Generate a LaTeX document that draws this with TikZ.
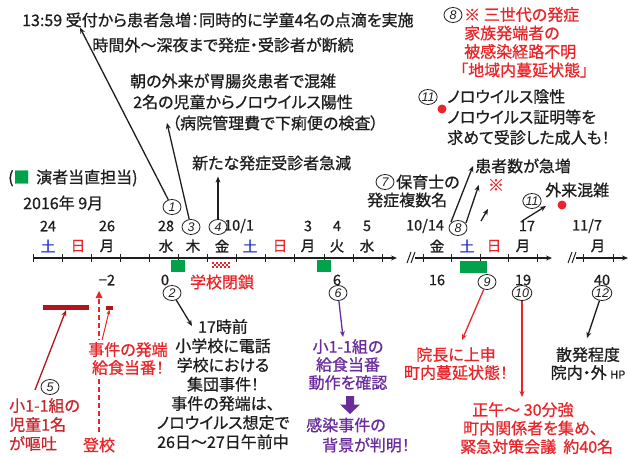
\documentclass[tikz,border=0pt]{standalone}
\usepackage{fontspec}
\setmainfont{Noto Sans CJK JP}[CharacterWidth=AlternateProportional,FakeBold=0.8]
\newfontfamily\numfont{Liberation Sans}
\usetikzlibrary{shapes.geometric,arrows.meta,calc}

\definecolor{ink}{HTML}{1E1E1E}
\definecolor{jred}{HTML}{E8262A}
\definecolor{dred}{HTML}{B3141C}
\definecolor{mred}{HTML}{C8282E}
\definecolor{jblue}{HTML}{2030C8}
\definecolor{jgreen}{HTML}{00A14B}
\definecolor{jpurple}{HTML}{6A2C9C}

\begin{document}
\begin{tikzpicture}[x=1pt,y=-1pt,
  txt/.style={inner sep=0pt,font=\fontsize{16}{19.5}\selectfont,text=ink},
  day/.style={inner sep=0pt,font=\fontsize{14.5}{14.5}\selectfont,text=ink},
  cn/.style={draw=ink,ellipse,line width=0.8pt,inner sep=0pt,minimum width=18pt,
    minimum height=15pt,font=\fontsize{12.5}{12.5}\numfont\itshape,text=ink},
  arr/.style={-{Stealth[length=6pt,width=5pt]},line width=1.3pt,draw=ink},
  axisline/.style={line width=1.3pt,draw=ink,-{Stealth[length=6pt,width=5pt]}},
  tick/.style={line width=1pt,draw=ink},
  duty/.style={fill=jgreen,inner sep=0pt,minimum height=12pt},
  reddot/.style={circle,fill=jred,inner sep=0pt,minimum size=9pt}]

\fill[white] (0,0) rectangle (628,457);
\useasboundingbox (0,0) rectangle (628,457);

% ---------- time axis ----------
\draw[axisline] (33,258) -- (397,258);
\foreach \i in {0,...,12} \draw[tick] ({33+29.1*\i},254) -- ({33+29.1*\i},262);
\draw[tick] (407,263) -- (411,252);
\draw[tick] (411,263) -- (415,252);
\draw[axisline] (415,258) -- (552,258);
\foreach \i in {0,...,4} \draw[tick] ({423+28.5*\i},254) -- ({423+28.5*\i},262);
\draw[tick] (568,263) -- (572,252);
\draw[tick] (572,263) -- (576,252);
\draw[axisline] (576,258) -- (628,258);
\foreach \x in {583,613} \draw[tick] (\x,254) -- (\x,262);

% duty days and school closure
\node[duty,minimum width=14pt] (g1) at (178,266) {};
\node[duty,minimum width=14pt] (g2) at (324,266) {};
\node[duty,minimum width=27pt] (g3) at (473.5,267) {};
\foreach \i in {0,...,8} \foreach \j in {0,1,2} {
  \pgfmathparse{int(mod(\i+\j,2))}
  \ifnum\pgfmathresult=0 \fill[jred] ({212+2*\i},{262+2*\j}) rectangle ++(2,2); \fi
}
\node[txt,text=jred] (close) at (222,282) {学校閉鎖};

% day numbers
\node[day] (d24) at (48,226) {24};
\node[day] (d26) at (107,226) {26};
\node[day] (d28) at (166,226) {28};
\node[day] (d101) at (239,226) {10/1};
\node[day] (d3) at (308,226) {3};
\node[day] (d4) at (337,226) {4};
\node[day] (d5) at (367,226) {5};
\node[day] (d1014) at (425,226) {10/14};
\node[day] (d17) at (527,226) {17};
\node[day] (d117) at (587,226) {11/7};

% weekdays
\node[day,text=jblue] (w1) at (48,246) {土};
\node[day,text=jred]  (w2) at (78,246) {日};
\node[day] (w3) at (107,246) {月};
\node[day] (w4) at (166,246) {水};
\node[day] (w5) at (193,246) {木};
\node[day] (w6) at (222,246) {金};
\node[day,text=jblue] (w7) at (250,246) {土};
\node[day,text=jred]  (w8) at (280,246) {日};
\node[day] (w9) at (308,246) {月};
\node[day] (w10) at (337,246) {火};
\node[day] (w11) at (367,246) {水};
\node[day] (w12) at (437,246) {金};
\node[day,text=jblue] (w13) at (467,246) {土};
\node[day,text=jred]  (w14) at (494,246) {日};
\node[day] (w15) at (523,246) {月};
\node[day] (w16) at (598,246) {月};

% elapsed days
\node[day] (m2) at (107,280) {−2};
\node[day] (m0) at (165,280) {0};
\node[day] (m6) at (337,280) {6};
\node[day] (m16) at (437,280) {16};
\node[day] (m19) at (523,280) {19};
\node[day] (m40) at (602,280) {40};

% legend and month
\node[txt,anchor=west] (legend) at (8,178) {(\textcolor{jgreen}{■}\hspace{3pt} 演者当直担当)};
\node[txt,anchor=west] (month) at (23,203) {2016年 9月};

% ---------- upper notes ----------
\node[txt,anchor=west] (A1) at (22,20) {13:59 受付から患者急増：同時的に学童4名の点滴を実施};
\node[txt] (A2) at (223,45) {時間外～深夜まで発症・受診者が断続};
\node[txt,anchor=west] (A3a) at (130,81) {朝の外来が胃腸炎患者で混雑};
\node[txt,anchor=west] (A3b) at (133,102) {2名の児童からノロウイルス陽性};
\node[txt,anchor=west] (A3c) at (172,123) {（病院管理費で下痢便の検査）};
\node[txt,anchor=west] (A4) at (192,163) {新たな発症受診者急減};

\node[cn] (c1) at (172,207) {1};
\node[cn] (c3) at (191,227) {3};
\node[cn] (c4) at (218,227) {4};
\draw[arr] (c1) -- ([xshift=58pt]A1.south west);
\draw[arr] (c3) -- ([xshift=-5pt]A3c.west);
\draw[arr,shorten >=6pt] (c4) -- (c4 |- A4.south);

\node[cn] (c8a) at (453,15) {8};
\node[txt,text=jred,align=left,anchor=north west,font=\fontsize{16}{18.5}\selectfont] (B8) at (464,7)
  {※ 三世代の発症\\家族発端者の\\被感染経路不明\\\hspace*{-4pt}「地域内蔓延状態」};

\node[cn] (c11a) at (428,97) {11};
\node[reddot] (dot1) at (442,109) {};
\node[txt,align=left,anchor=north west,font=\fontsize{16}{20.5}\selectfont] (B11) at (447,89)
  {ノロウイルス陰性\\ノロウイルス証明等を\\求めて受診した成人も！};

\node[txt,anchor=west] (P) at (475,166) {患者数が急増};
\node[cn] (c7) at (385,182) {7};
\node[txt,anchor=west] (B7a) at (396,182) {保育士の};
\node[txt,anchor=west] (B7b) at (367,200) {発症複数名};
\node[txt,text=jred] (K) at (496,185) {※};
\node[cn] (c8) at (458,228) {8};
\coordinate (s1) at (451,222);
\coordinate (s2) at (466,223);
\coordinate (s3) at (481,221);
\coordinate (e3) at (488,209);
\draw[arr] (s1) -- ([xshift=-2pt]P.west);
\draw[arr] (s2) -- ([xshift=-9pt]K.west);
\draw[arr] (s3) -- (e3);

\node[cn] (c11) at (532,201) {11};
\node[txt,anchor=west] (G) at (545,190) {外来混雑};
\node[reddot] (dot2) at (562,205) {};
\coordinate (s4) at (522,221);
\coordinate (e4) at (546,206);
\draw[arr] (s4) -- (e4);

% ---------- lower notes ----------
\node[cn] (c2) at (172,293) {2};
\node[txt,align=center,anchor=north,font=\fontsize{16}{19.2}\selectfont] (B2) at (223,319)
  {17時前\\小学校に電話\\学校における\\集団事件！\\事件の発端は、\\ノロウイルス想定で\\26日～27日午前中};
\draw[arr] (c2) -- ($(B2.north)+(-31,7)$);

% vomiting case and school attendance
\node[fill=dred,inner sep=0pt,minimum width=46pt,minimum height=5pt] (bar5) at (66,307.5) {};
\node[fill=dred,inner sep=0pt,minimum width=7pt,minimum height=4pt] (bar0) at (109.5,307.5) {};
\node[txt,text=jred] (tk) at (99,445) {登校};
\coordinate (tktop) at (99,291);
\draw[jred,line width=2.2pt,dash pattern=on 5pt off 3pt,shorten >=3pt,shorten <=5pt] (tk.north) -- (tktop);
\fill[jred] (tktop) -- ++(-3.5,7) -- ++(7,0) -- cycle;
\node[txt,text=jred,align=center,anchor=north,fill=white,inner ysep=2pt,font=\fontsize{16}{18}\selectfont] (E) at (128,340)
  {事件の発端\\給食当番！};
\draw[-{Stealth[length=5pt,width=4pt]},line width=1pt,jred] ($(E.north west)+(14,0)$) -- (bar0.south);

\node[cn] (c5) at (50,387) {5};
\node[txt,text=mred,align=left,anchor=north west,font=\fontsize{16}{19}\selectfont] (B5) at (9,398)
  {小1-1組の\\児童1名\\が嘔吐};
\draw[-{Stealth[length=6pt,width=5pt]},line width=1.3pt,dred] ($(B5.north west)+(26,-8)$) -- (bar5.south);

% lunch duty check
\node[cn] (c6) at (338,293) {6};
\node[txt,text=jpurple,align=center,anchor=north,font=\fontsize{16}{18}\selectfont] (B6) at (348,339)
  {小1-1組の\\給食当番\\動作を確認};
\draw[arr,draw=jpurple] (c6) -- ([xshift=-5pt,yshift=2pt]B6.north);
\fill[jpurple] (346,396) -- (354,396) -- (354,404.5) -- (360,404.5) -- (350,414) -- (340,404.5) -- (346,404.5) -- cycle;
\node[txt,text=jpurple] (B6b) at (346,425) {感染事件の};
\node[txt,text=jpurple] (B6c) at (366,445) {背景が判明！};

% report to director
\node[cn] (c9) at (487,282) {9};
\node[txt,text=jred,align=center,anchor=north,font=\fontsize{16}{18}\selectfont] (B9) at (456,347)
  {院長に上申\\町内蔓延状態！};
\draw[arr,draw=jred] (c9) -- ($(B9.north)+(6,-7)$);

% emergency meeting
\node[cn] (c10) at (522,293) {10};
\node[txt,text=jred,align=left,anchor=north west,font=\fontsize{16}{18.5}\selectfont] (B10) at (460,402)
  {\hspace*{12pt}正午～ 30分強\\\hspace*{3pt}町内関係者を集め、\\緊急対策会議\ \ 約40名};
\draw[arr,draw=jred,shorten >=5pt] (c10) -- (c10 |- B10.north);

% sporadic phase
\node[cn] (c12) at (602,293) {12};
\node[txt,align=center,anchor=north,font=\fontsize{16}{18}\selectfont] (B12) at (588,347)
  {散発程度\\院内・外 {\fontsize{11}{11}\selectfont HP}};
\draw[arr] (c12) -- ($(B12.north)+(-1,-9)$);

\end{tikzpicture}
\end{document}
